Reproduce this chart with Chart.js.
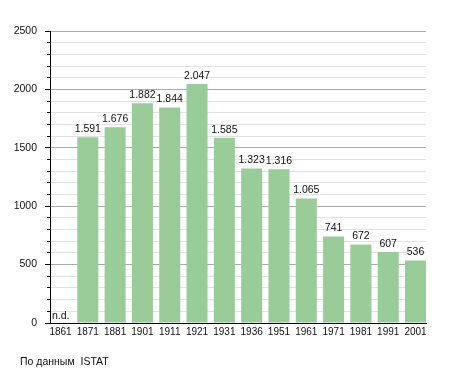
<!DOCTYPE html>
<html>
<head>
<meta charset="utf-8">
<style>
  html, body { margin: 0; padding: 0; background: #fff; }
  #wrap { width: 455px; height: 373px; }
</style>
<script src="https://cdn.jsdelivr.net/npm/chart.js@4/dist/chart.umd.min.js"></script>
</head>
<body>
<div id="wrap"><canvas id="pop"></canvas></div>
<script>
// Censimenti ISTAT — 1861 senza dato (n.d.)
const anni = ['1861', '1871', '1881', '1901', '1911', '1921', '1931', '1936', '1951', '1961', '1971', '1981', '1991', '2001'];
const abitanti = [null, 1591, 1676, 1882, 1844, 2047, 1585, 1323, 1316, 1065, 741, 672, 607, 536];
const yTicks = [0, 500, 1000, 1500, 2000, 2500];
const fonte = 'По данным  ISTAT';

const FONT = '"Liberation Sans", Arial, sans-serif';

// 1.591 statt 1,591
function punkt(n) {
  return String(n).replace(/\B(?=(\d{3})+(?!\d))/g, '.');
}

const beschriftung = {
  id: 'beschriftung',
  afterDatasetsDraw(chart) {
    const { ctx } = chart;
    const meta = chart.getDatasetMeta(0);
    ctx.save();
    ctx.fillStyle = '#111';
    ctx.font = '10.5px ' + FONT;
    ctx.textAlign = 'center';
    ctx.textBaseline = 'bottom';
    meta.data.forEach((bar, i) => {
      const v = abitanti[i];
      if (v === null) {
        // kein Wert -> "n.d." links unten im Feld
        ctx.textAlign = 'left';
        ctx.fillText('n.d.', chart.chartArea.left + 2, chart.scales.y.getPixelForValue(0) - 2);
        ctx.textAlign = 'center';
        return;
      }
      ctx.fillText(punkt(v), bar.x, bar.y - 3);
    });
    ctx.restore();
  },
  afterDraw(chart) {
    const { ctx } = chart;
    ctx.save();
    ctx.fillStyle = '#111';
    ctx.font = '10.5px ' + FONT;
    ctx.textAlign = 'left';
    ctx.textBaseline = 'middle';
    ctx.fillText(fonte, 20, 362);
    ctx.restore();
  }
};

new Chart(document.getElementById('pop'), {
  type: 'bar',
  data: {
    datasets: [{
      data: abitanti.map((v, i) => ({ x: i, y: v })),
      backgroundColor: '#99cc99',
      borderWidth: 0,
      barPercentage: 0.77,
      categoryPercentage: 1,
    }],
  },
  options: {
    responsive: true,
    maintainAspectRatio: false,
    animation: false,
    layout: { padding: { top: 31, right: 29, left: 0, bottom: 0 } },
    plugins: { legend: { display: false }, tooltip: { enabled: false } },
    scales: {
      x: {
        type: 'linear',
        offset: false,
        min: -0.3845,
        max: 13.384,
        afterFit: (s) => { s.height = 50; },
        grid: { display: true, drawOnChartArea: false, drawTicks: false, offset: false },
        border: { display: true, color: '#000', width: 1 },
        ticks: {
          stepSize: 1,
          includeBounds: false,
          autoSkip: false,
          maxRotation: 0,
          padding: 3,
          color: '#111',
          font: { family: FONT, size: 10 },
          callback: (v) => anni[v] ?? '',
        },
      },
      // Hauptteilung mit Beschriftung
      y: {
        min: 0,
        max: 2500,
        weight: 1,
        afterFit: (s) => { s.width = 50; },
        afterBuildTicks: (s) => { s.ticks = yTicks.map(v => ({ value: v })); },
        grid: { color: '#aaaaaa', tickColor: '#000', tickLength: 5 },
        border: { display: true, color: '#000', width: 1 },
        ticks: {
          padding: 8,
          color: '#111',
          font: { family: FONT, size: 10.5 },
          callback: (v) => String(v),
        },
      },
      // Zwischenteilung alle 100, nur kurze Striche + helle Linien
      y2: {
        position: 'left',
        min: 0,
        max: 2500,
        weight: 0,
        afterFit: (s) => { s.width = 0; },
        grid: {
          color: (c) => (c.tick.value % 500 === 0 ? 'rgba(0,0,0,0)' : '#e2e2e2'),
          tickColor: '#000',
          tickLength: 3,
        },
        border: { display: false },
        ticks: { stepSize: 100, display: false },
      },
    },
  },
  plugins: [beschriftung],
});
</script>
</body>
</html>
